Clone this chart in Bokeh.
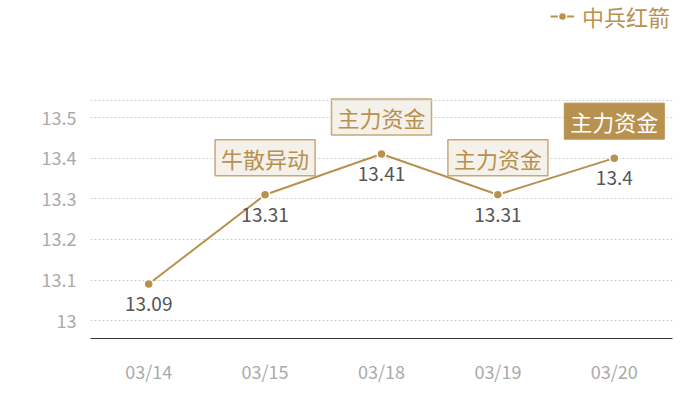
from bokeh.plotting import figure
from bokeh.models import ColumnDataSource, FixedTicker, Span, Legend, LegendItem, Range1d, FactorRange
from bokeh.core.properties import value
from bokeh.embed import file_html
from bokeh.resources import INLINE

dates = ["03/14", "03/15", "03/18", "03/19", "03/20"]
prices = [13.09, 13.31, 13.41, 13.31, 13.40]
price_labels = ["13.09", "13.31", "13.41", "13.31", "13.4"]
events = ["", "牛散异动", "主力资金", "主力资金", "主力资金"]
highlight = [False, False, False, False, True]
y_ticks = [13.0, 13.1, 13.2, 13.3, 13.4, 13.5]
y_tick_labels = ["13", "13.1", "13.2", "13.3", "13.4", "13.5"]
series_name = "中兵红箭"

GOLD = "#b8914f"
FONT = "Noto Sans CJK SC"

p = figure(width=700, height=400, x_range=FactorRange(*dates), y_range=Range1d(12.956, 13.788),
           output_backend="svg", toolbar_location=None,
           min_border_left=90, min_border_right=28, min_border_top=0, min_border_bottom=62)
p.outline_line_color = None
p.background_fill_color = "white"
p.border_fill_color = "white"

p.xgrid.grid_line_color = None
p.ygrid.grid_line_color = "#cfcfcf"
p.ygrid.grid_line_dash = "2 2"
p.ygrid.grid_line_width = 1

p.yaxis.ticker = FixedTicker(ticks=y_ticks)
p.yaxis.major_label_overrides = {t: l for t, l in zip(y_ticks, y_tick_labels)}
p.yaxis.axis_line_color = None
p.yaxis.major_tick_line_color = None
p.yaxis.minor_tick_line_color = None
p.yaxis.major_label_text_color = "#aaaaaa"
p.yaxis.major_label_text_font = FONT
p.yaxis.major_label_text_font_size = "18px"
p.yaxis.major_label_standoff = 8

p.xaxis.axis_line_color = "#333333"
p.xaxis.axis_line_width = 1
p.xaxis.major_tick_line_color = None
p.xaxis.minor_tick_line_color = None
p.xaxis.major_label_text_color = "#aaaaaa"
p.xaxis.major_label_text_font = FONT
p.xaxis.major_label_text_font_size = "18px"
p.xaxis.major_label_standoff = 13

# dashed top border of the value area
top_line = Span(location=13.542, dimension="width", line_color="#cfcfcf",
                line_dash="2 2", line_width=1)
p.add_layout(top_line)

src = ColumnDataSource(dict(x=dates, y=prices, lab=price_labels))
ln = p.line("x", "y", source=src, line_color=GOLD, line_width=2)
pts = p.scatter("x", "y", source=src, size=9, fill_color=GOLD, line_color="white", line_width=1.5)

p.text("x", "y", text="lab", source=src, text_align="center", text_baseline="top",
       y_offset=13, text_color="#555555", text_font=value(FONT), text_font_size="19px")

ex = [d for d, e, h in zip(dates, events, highlight) if e and not h]
ey = [v for v, e, h in zip(prices, events, highlight) if e and not h]
et = [e for e, h in zip(events, highlight) if e and not h]
p.text(x=ex, y=ey, text=et, text_align="center", text_baseline="bottom", y_offset=-19,
       text_color=GOLD, text_font=value(FONT), text_font_size="22px",
       background_fill_color="#f4f0ea", border_line_color="#c9a878", border_line_width=1.5,
       padding=dict(x=6, y=2))

hx = [d for d, e, h in zip(dates, events, highlight) if e and h]
hy = [v for v, e, h in zip(prices, events, highlight) if e and h]
ht = [e for e, h in zip(events, highlight) if e and h]
p.text(x=hx, y=hy, text=ht, text_align="center", text_baseline="bottom", y_offset=-19,
       text_color="white", text_font=value(FONT), text_font_size="22px",
       background_fill_color=GOLD, border_line_color=GOLD, border_line_width=1,
       padding=dict(x=6, y=2))

legend = Legend(items=[LegendItem(label=series_name, renderers=[ln, pts])],
                location=(460, 306), orientation="horizontal",
                label_text_font=FONT, label_text_font_size="22px", label_text_color=GOLD,
                border_line_color=None, background_fill_alpha=0, glyph_width=24,
                label_standoff=8, padding=0, margin=0)
p.add_layout(legend, "center")

open("out.html", "w").write(file_html(p, INLINE))
